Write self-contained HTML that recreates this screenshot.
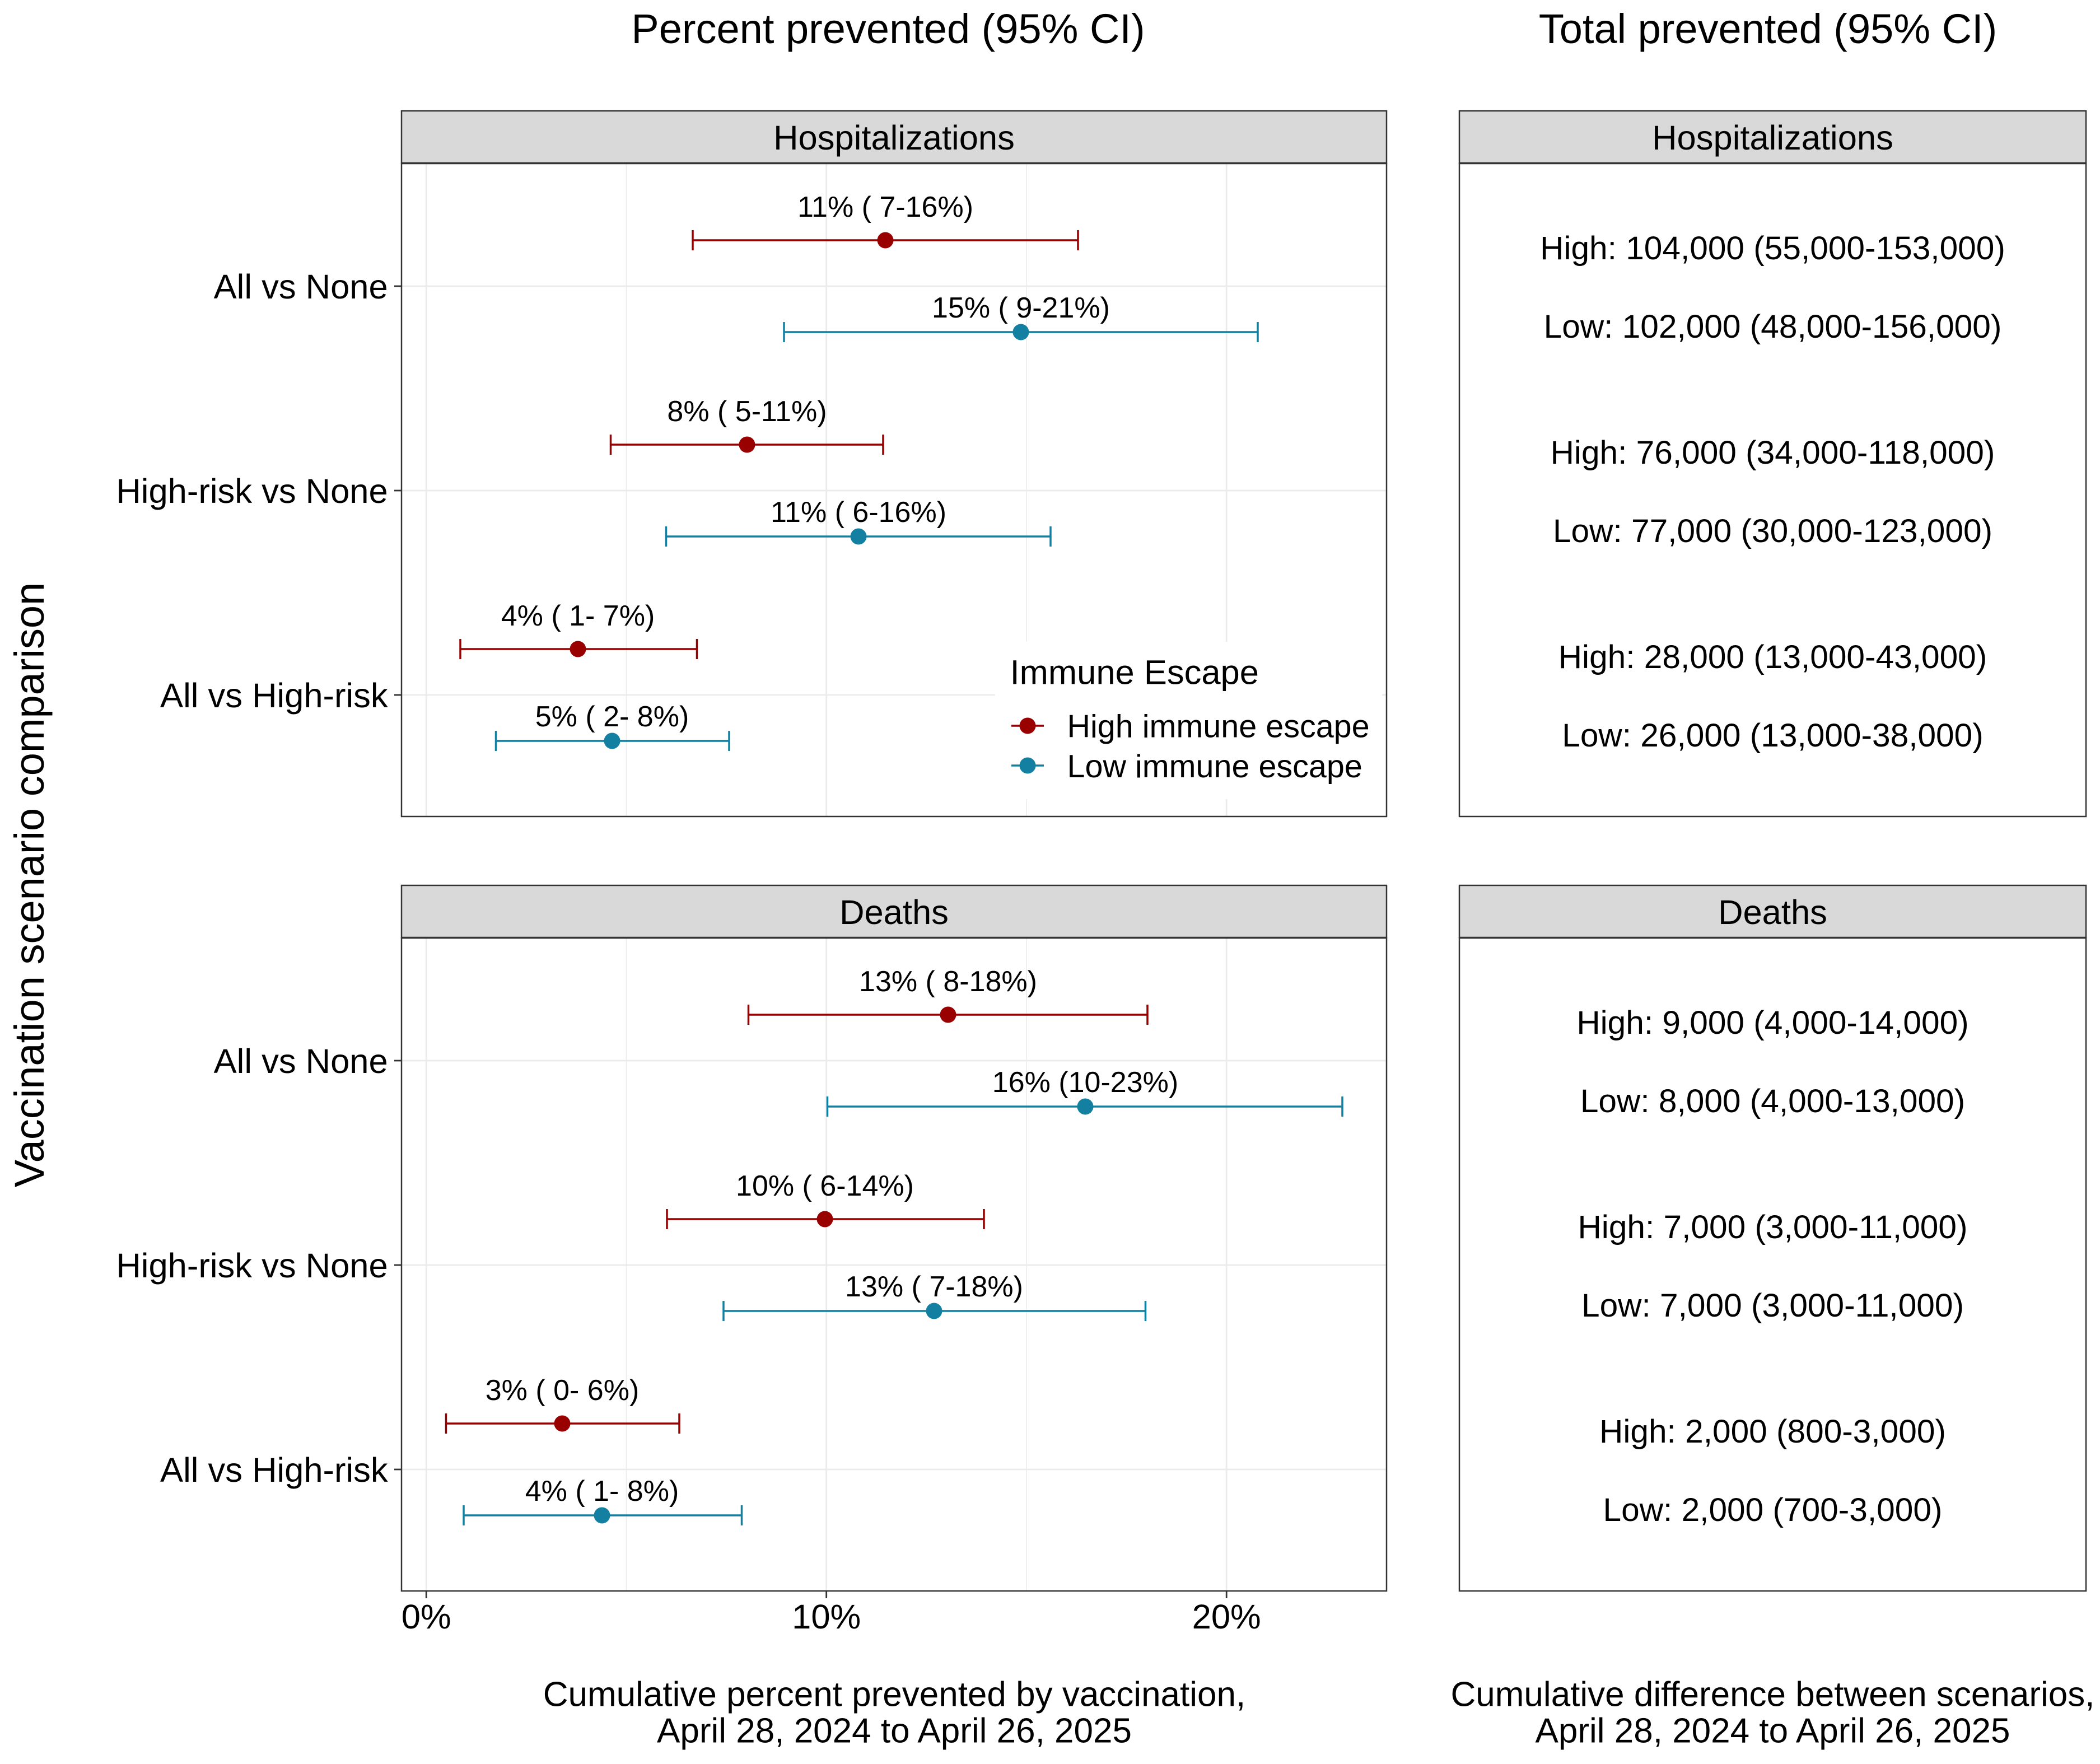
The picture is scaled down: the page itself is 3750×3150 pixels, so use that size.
<!DOCTYPE html>
<html>
<head>
<meta charset="utf-8">
<style>
  html, body { margin: 0; padding: 0; background: #ffffff; }
  svg { display: block; }
  text { font-family: "Liberation Sans", Arial, Helvetica, sans-serif; fill: #000; }
</style>
</head>
<body>
<svg width="3750" height="3150" viewBox="0 0 3750 3150" xmlns="http://www.w3.org/2000/svg">
  <rect x="0" y="0" width="3750" height="3150" fill="#ffffff"/>

  <!-- Column titles -->
  <text x="1586" y="77" font-size="74" text-anchor="middle">Percent prevented (95% CI)</text>
  <text x="3157" y="77" font-size="74" text-anchor="middle">Total prevented (95% CI)</text>

  <!-- Y axis title -->
  <text transform="translate(78,1580) rotate(-90)" font-size="74" text-anchor="middle">Vaccination scenario comparison</text>

  <!-- ============ LEFT: Hospitalizations ============ -->
  <rect x="717" y="292" width="1759" height="1166" fill="#ffffff"/>
  <g stroke="#EBEBEB" stroke-width="1.5">
    <line x1="1118.4" y1="292" x2="1118.4" y2="1458"/>
    <line x1="1833" y1="292" x2="1833" y2="1458"/>
  </g>
  <g stroke="#EBEBEB" stroke-width="2.8">
    <line x1="761.2" y1="292" x2="761.2" y2="1458"/>
    <line x1="1475.7" y1="292" x2="1475.7" y2="1458"/>
    <line x1="2190.2" y1="292" x2="2190.2" y2="1458"/>
    <line x1="717" y1="511" x2="2476" y2="511"/>
    <line x1="717" y1="876" x2="2476" y2="876"/>
    <line x1="717" y1="1241" x2="2476" y2="1241"/>
  </g>

  <g stroke-width="3.5" fill="none">
    <g stroke="#990000">
      <line x1="1237" y1="429" x2="1925" y2="429"/>
      <line x1="1237" y1="411" x2="1237" y2="447"/>
      <line x1="1925" y1="411" x2="1925" y2="447"/>
    </g>
    <g stroke="#1380A1">
      <line x1="1400" y1="593" x2="2246" y2="593"/>
      <line x1="1400" y1="575" x2="1400" y2="611"/>
      <line x1="2246" y1="575" x2="2246" y2="611"/>
    </g>
    <g stroke="#990000">
      <line x1="1090.5" y1="794" x2="1577" y2="794"/>
      <line x1="1090.5" y1="776" x2="1090.5" y2="812"/>
      <line x1="1577" y1="776" x2="1577" y2="812"/>
    </g>
    <g stroke="#1380A1">
      <line x1="1189.5" y1="958" x2="1876" y2="958"/>
      <line x1="1189.5" y1="940" x2="1189.5" y2="976"/>
      <line x1="1876" y1="940" x2="1876" y2="976"/>
    </g>
    <g stroke="#990000">
      <line x1="822" y1="1159" x2="1244.5" y2="1159"/>
      <line x1="822" y1="1141" x2="822" y2="1177"/>
      <line x1="1244.5" y1="1141" x2="1244.5" y2="1177"/>
    </g>
    <g stroke="#1380A1">
      <line x1="885.5" y1="1323" x2="1302" y2="1323"/>
      <line x1="885.5" y1="1305" x2="885.5" y2="1341"/>
      <line x1="1302" y1="1305" x2="1302" y2="1341"/>
    </g>
  </g>
  <g>
    <circle cx="1581" cy="429" r="14.5" fill="#990000"/>
    <circle cx="1823" cy="593" r="14.5" fill="#1380A1"/>
    <circle cx="1334" cy="794" r="14.5" fill="#990000"/>
    <circle cx="1533" cy="958" r="14.5" fill="#1380A1"/>
    <circle cx="1032" cy="1159" r="14.5" fill="#990000"/>
    <circle cx="1093" cy="1323" r="14.5" fill="#1380A1"/>
  </g>
  <g font-size="52" text-anchor="middle">
    <text x="1581" y="387">11% ( 7-16%)</text>
    <text x="1823" y="567">15% ( 9-21%)</text>
    <text x="1334" y="752">8% ( 5-11%)</text>
    <text x="1533" y="932">11% ( 6-16%)</text>
    <text x="1032" y="1117">4% ( 1- 7%)</text>
    <text x="1093" y="1297">5% ( 2- 8%)</text>
  </g>

  <!-- Legend -->
  <rect x="1777" y="1146" width="691" height="281" fill="#ffffff"/>
  <text x="1803.6" y="1221.7" font-size="61.5">Immune Escape</text>
  <line x1="1806" y1="1296" x2="1864" y2="1296" stroke="#990000" stroke-width="3.5"/>
  <circle cx="1835" cy="1296" r="14.5" fill="#990000"/>
  <line x1="1806" y1="1367" x2="1864" y2="1367" stroke="#1380A1" stroke-width="3.5"/>
  <circle cx="1835" cy="1367" r="14.5" fill="#1380A1"/>
  <text x="1905.5" y="1316.7" font-size="57.5">High immune escape</text>
  <text x="1905.5" y="1388" font-size="57.5">Low immune escape</text>

  <rect x="717" y="292" width="1759" height="1166" fill="none" stroke="#333333" stroke-width="2.5"/>
  <rect x="717" y="198" width="1759" height="93" fill="#D9D9D9" stroke="#333333" stroke-width="2.5"/>
  <text x="1596.5" y="267" font-size="61.5" text-anchor="middle">Hospitalizations</text>

  <g stroke="#333333" stroke-width="2.8">
    <line x1="704" y1="511" x2="717" y2="511"/>
    <line x1="704" y1="876" x2="717" y2="876"/>
    <line x1="704" y1="1241" x2="717" y2="1241"/>
  </g>
  <g font-size="61.5" text-anchor="end">
    <text x="692.7" y="533">All vs None</text>
    <text x="692.7" y="898">High-risk vs None</text>
    <text x="692.7" y="1263">All vs High-risk</text>
  </g>

  <!-- ============ LEFT: Deaths ============ -->
  <rect x="717" y="1675" width="1759" height="1166" fill="#ffffff"/>
  <g stroke="#EBEBEB" stroke-width="1.5">
    <line x1="1118.4" y1="1675" x2="1118.4" y2="2841"/>
    <line x1="1833" y1="1675" x2="1833" y2="2841"/>
  </g>
  <g stroke="#EBEBEB" stroke-width="2.8">
    <line x1="761.2" y1="1675" x2="761.2" y2="2841"/>
    <line x1="1475.7" y1="1675" x2="1475.7" y2="2841"/>
    <line x1="2190.2" y1="1675" x2="2190.2" y2="2841"/>
    <line x1="717" y1="1894" x2="2476" y2="1894"/>
    <line x1="717" y1="2259" x2="2476" y2="2259"/>
    <line x1="717" y1="2624" x2="2476" y2="2624"/>
  </g>

  <g stroke-width="3.5" fill="none">
    <g stroke="#990000">
      <line x1="1336.5" y1="1812" x2="2049" y2="1812"/>
      <line x1="1336.5" y1="1794" x2="1336.5" y2="1830"/>
      <line x1="2049" y1="1794" x2="2049" y2="1830"/>
    </g>
    <g stroke="#1380A1">
      <line x1="1477.5" y1="1976" x2="2397" y2="1976"/>
      <line x1="1477.5" y1="1958" x2="1477.5" y2="1994"/>
      <line x1="2397" y1="1958" x2="2397" y2="1994"/>
    </g>
    <g stroke="#990000">
      <line x1="1191" y1="2177" x2="1757" y2="2177"/>
      <line x1="1191" y1="2159" x2="1191" y2="2195"/>
      <line x1="1757" y1="2159" x2="1757" y2="2195"/>
    </g>
    <g stroke="#1380A1">
      <line x1="1292" y1="2341" x2="2045.5" y2="2341"/>
      <line x1="1292" y1="2323" x2="1292" y2="2359"/>
      <line x1="2045.5" y1="2323" x2="2045.5" y2="2359"/>
    </g>
    <g stroke="#990000">
      <line x1="796.5" y1="2542" x2="1213" y2="2542"/>
      <line x1="796.5" y1="2524" x2="796.5" y2="2560"/>
      <line x1="1213" y1="2524" x2="1213" y2="2560"/>
    </g>
    <g stroke="#1380A1">
      <line x1="828" y1="2706" x2="1324.5" y2="2706"/>
      <line x1="828" y1="2688" x2="828" y2="2724"/>
      <line x1="1324.5" y1="2688" x2="1324.5" y2="2724"/>
    </g>
  </g>
  <g>
    <circle cx="1693" cy="1812" r="14.5" fill="#990000"/>
    <circle cx="1938" cy="1976" r="14.5" fill="#1380A1"/>
    <circle cx="1473" cy="2177" r="14.5" fill="#990000"/>
    <circle cx="1668" cy="2341" r="14.5" fill="#1380A1"/>
    <circle cx="1004" cy="2542" r="14.5" fill="#990000"/>
    <circle cx="1075" cy="2706" r="14.5" fill="#1380A1"/>
  </g>
  <g font-size="52" text-anchor="middle">
    <text x="1693" y="1770">13% ( 8-18%)</text>
    <text x="1938" y="1950">16% (10-23%)</text>
    <text x="1473" y="2135">10% ( 6-14%)</text>
    <text x="1668" y="2315">13% ( 7-18%)</text>
    <text x="1004" y="2500">3% ( 0- 6%)</text>
    <text x="1075" y="2680">4% ( 1- 8%)</text>
  </g>

  <rect x="717" y="1675" width="1759" height="1166" fill="none" stroke="#333333" stroke-width="2.5"/>
  <rect x="717" y="1581" width="1759" height="93" fill="#D9D9D9" stroke="#333333" stroke-width="2.5"/>
  <text x="1596.5" y="1650" font-size="61.5" text-anchor="middle">Deaths</text>

  <g stroke="#333333" stroke-width="2.8">
    <line x1="704" y1="1894" x2="717" y2="1894"/>
    <line x1="704" y1="2259" x2="717" y2="2259"/>
    <line x1="704" y1="2624" x2="717" y2="2624"/>
    <line x1="761.2" y1="2841" x2="761.2" y2="2854"/>
    <line x1="1475.7" y1="2841" x2="1475.7" y2="2854"/>
    <line x1="2190.2" y1="2841" x2="2190.2" y2="2854"/>
  </g>
  <g font-size="61.5" text-anchor="end">
    <text x="692.7" y="1916">All vs None</text>
    <text x="692.7" y="2281">High-risk vs None</text>
    <text x="692.7" y="2646">All vs High-risk</text>
  </g>
  <g font-size="61.5" text-anchor="middle">
    <text x="761.2" y="2908">0%</text>
    <text x="1475.7" y="2908">10%</text>
    <text x="2190.2" y="2908">20%</text>
  </g>

  <!-- X axis titles -->
  <g font-size="62" text-anchor="middle">
    <text x="1597" y="3046.7">Cumulative percent prevented by vaccination,</text>
    <text x="1597" y="3111.7">April 28, 2024 to April 26, 2025</text>
    <text x="3165.5" y="3046.7">Cumulative difference between scenarios,</text>
    <text x="3165.5" y="3111.7">April 28, 2024 to April 26, 2025</text>
  </g>

  <!-- ============ RIGHT panels ============ -->
  <rect x="2606" y="292" width="1119" height="1166" fill="#ffffff" stroke="#333333" stroke-width="2.5"/>
  <rect x="2606" y="198" width="1119" height="93" fill="#D9D9D9" stroke="#333333" stroke-width="2.5"/>
  <text x="3165.5" y="267" font-size="61.5" text-anchor="middle">Hospitalizations</text>

  <g font-size="58.6" text-anchor="middle">
    <text x="3165.5" y="463">High: 104,000 (55,000-153,000)</text>
    <text x="3165.5" y="603">Low: 102,000 (48,000-156,000)</text>
    <text x="3165.5" y="828">High: 76,000 (34,000-118,000)</text>
    <text x="3165.5" y="968">Low: 77,000 (30,000-123,000)</text>
    <text x="3165.5" y="1193">High: 28,000 (13,000-43,000)</text>
    <text x="3165.5" y="1333">Low: 26,000 (13,000-38,000)</text>
  </g>

  <rect x="2606" y="1675" width="1119" height="1166" fill="#ffffff" stroke="#333333" stroke-width="2.5"/>
  <rect x="2606" y="1581" width="1119" height="93" fill="#D9D9D9" stroke="#333333" stroke-width="2.5"/>
  <text x="3165.5" y="1650" font-size="61.5" text-anchor="middle">Deaths</text>

  <g font-size="58.6" text-anchor="middle">
    <text x="3165.5" y="1846">High: 9,000 (4,000-14,000)</text>
    <text x="3165.5" y="1986">Low: 8,000 (4,000-13,000)</text>
    <text x="3165.5" y="2211">High: 7,000 (3,000-11,000)</text>
    <text x="3165.5" y="2351">Low: 7,000 (3,000-11,000)</text>
    <text x="3165.5" y="2576">High: 2,000 (800-3,000)</text>
    <text x="3165.5" y="2716">Low: 2,000 (700-3,000)</text>
  </g>
</svg>
</body>
</html>
